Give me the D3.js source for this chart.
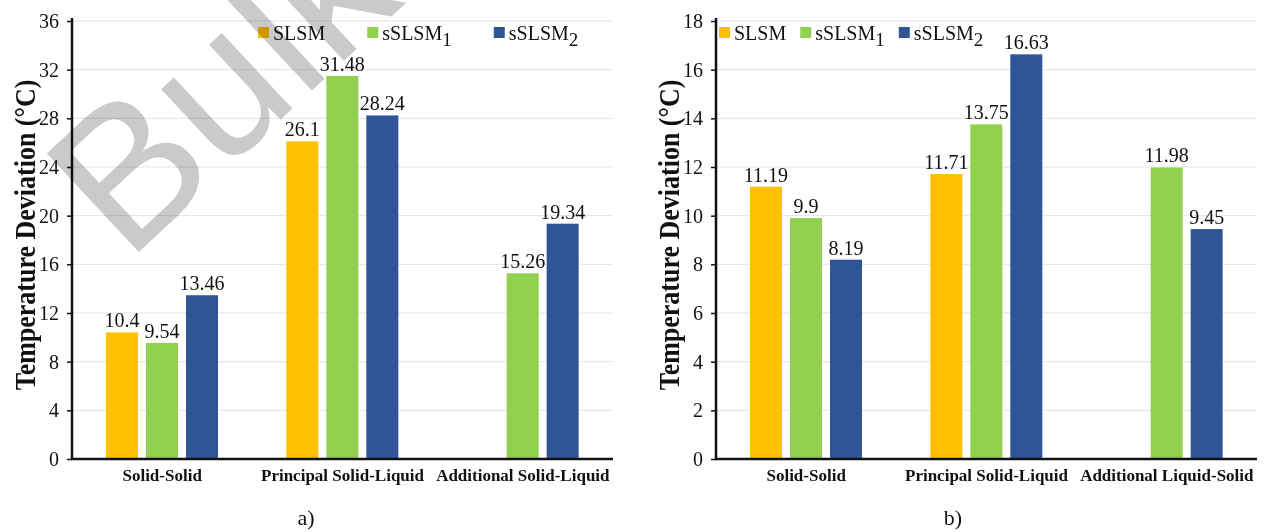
<!DOCTYPE html>
<html>
<head>
<meta charset="utf-8">
<script src="https://cdn.jsdelivr.net/npm/d3@7"></script>
<style>
  body { margin: 0; background: #fff; }
  svg { display: block; font-family: "Liberation Serif", "Times New Roman", serif; }
</style>
</head>
<body>
<svg id="chart" width="1266" height="532"></svg>
<script>
const seriesNames = ["SLSM", "sSLSM1", "sSLSM2"];
const seriesColors = ["#FFC000", "#92D050", "#2F5597"];

const catsA = ["Solid-Solid", "Principal Solid-Liquid", "Additional Solid-Liquid"];
const slsmA = [10.4, 26.1, null];
const sslsm1A = [9.54, 31.48, 15.26];
const sslsm2A = [13.46, 28.24, 19.34];
const ticksA = [0, 4, 8, 12, 16, 20, 24, 28, 32, 36];

const catsB = ["Solid-Solid", "Principal Solid-Liquid", "Additional Liquid-Solid"];
const slsmB = [11.19, 11.71, null];
const sslsm1B = [9.9, 13.75, 11.98];
const sslsm2B = [8.19, 16.63, 9.45];
const ticksB = [0, 2, 4, 6, 8, 10, 12, 14, 16, 18];

const svg = d3.select("#chart");

function drawPanel(opts) {
  const g = svg.append("g").attr("transform", `translate(${opts.left},0)`);
  const w = 541, y0 = 459, yTop = 21;

  const y = d3.scaleLinear().domain([0, d3.max(opts.ticks)]).range([y0, yTop]);
  const x0 = d3.scaleBand().domain(opts.cats).range([0, w]);
  const x1 = d3.scaleBand().domain(seriesNames).range([34, 146]).paddingInner(0.2);

  // grid
  g.selectAll(".grid")
    .data(opts.ticks.filter(t => t > 0))
    .enter().append("line")
    .attr("x1", 0).attr("x2", w)
    .attr("y1", d => y(d)).attr("y2", d => y(d))
    .attr("stroke", "#e3e3e3").attr("stroke-width", 1);

  // bars
  const rows = opts.cats.map((c, i) => ({
    cat: c,
    vals: opts.series.map((s, k) => ({ name: seriesNames[k], v: s[i], k }))
  }));

  const grp = g.selectAll(".grp").data(rows).enter().append("g")
    .attr("transform", d => `translate(${x0(d.cat)},0)`);

  grp.selectAll("rect")
    .data(d => d.vals.filter(v => v.v != null))
    .enter().append("rect")
    .attr("x", d => x1(d.name))
    .attr("width", x1.bandwidth())
    .attr("y", d => y(d.v))
    .attr("height", d => y0 - y(d.v))
    .attr("fill", d => seriesColors[d.k]);

  grp.selectAll("text.val")
    .data(d => d.vals.filter(v => v.v != null))
    .enter().append("text")
    .attr("class", "val")
    .attr("x", d => x1(d.name) + x1.bandwidth() / 2)
    .attr("y", d => y(d.v) - 5)
    .attr("text-anchor", "middle")
    .attr("font-size", 20)
    .attr("fill", "#111")
    .text(d => d.v);

  // y axis
  const yAxis = g.append("g").call(d3.axisLeft(y).tickValues(opts.ticks).tickSize(5).tickPadding(8));
  yAxis.select(".domain").attr("stroke", "#111").attr("stroke-width", 2.5).attr("d", `M0,${y0 + 1}V${yTop - 3}`);
  yAxis.selectAll(".tick line").attr("stroke", "#111").attr("stroke-width", 1.5);
  yAxis.selectAll(".tick text").attr("font-size", 20).attr("font-family", "Liberation Serif").attr("fill", "#111");

  // x axis
  g.append("line").attr("x1", -1).attr("x2", w).attr("y1", y0).attr("y2", y0)
    .attr("stroke", "#111").attr("stroke-width", 2.5);

  g.selectAll(".cat").data(opts.cats).enter().append("text")
    .attr("x", d => x0(d) + x0.bandwidth() / 2)
    .attr("y", 481)
    .attr("text-anchor", "middle")
    .attr("font-size", 17).attr("font-weight", "bold").attr("fill", "#111")
    .text(d => d);

  // y title
  g.append("text")
    .attr("transform", `translate(-37,235) rotate(-90) scale(1,1.15)`)
    .attr("text-anchor", "middle")
    .attr("font-size", 26).attr("font-weight", "bold").attr("fill", "#111")
    .text("Temperature Deviation (°C)");

  // panel label
  g.append("text").attr("x", opts.label[1]).attr("y", 525)
    .attr("text-anchor", "middle").attr("font-size", 22).attr("fill", "#111")
    .text(opts.label[0]);

  // legend
  let lx = opts.legendX;
  seriesNames.forEach((n, k) => {
    const item = g.append("g").attr("transform", `translate(${lx},0)`);
    item.append("rect").attr("x", 0).attr("y", 27).attr("width", 11).attr("height", 11)
      .attr("fill", seriesColors[k]);
    const t = item.append("text").attr("x", 15).attr("y", 40).attr("font-size", 20).attr("fill", "#111");
    if (n === "SLSM") {
      t.text(n);
    } else {
      t.append("tspan").text(n.slice(0, 5));
      t.append("tspan").attr("dy", 6).attr("font-size", 19).text(n.slice(5));
    }
    lx += 15 + t.node().getComputedTextLength() + opts.legendGap;
  });
}

drawPanel({
  left: 72, cats: catsA, series: [slsmA, sslsm1A, sslsm2A], ticks: ticksA,
  legendX: 186, legendGap: 42, label: ["a)", 234]
});
drawPanel({
  left: 716, cats: catsB, series: [slsmB, sslsm1B, sslsm2B], ticks: ticksB,
  legendX: 3, legendGap: 14, label: ["b)", 237]
});

// watermark
svg.append("text")
  .attr("transform", "translate(127,263) rotate(-43)")
  .attr("font-family", "Liberation Sans, Arial, sans-serif")
  .attr("font-size", 196)
  .attr("fill", "#bdbdbd")
  .attr("opacity", 0.8)
  .style("mix-blend-mode", "multiply")
  .text("Bulk");
</script>
</body>
</html>
